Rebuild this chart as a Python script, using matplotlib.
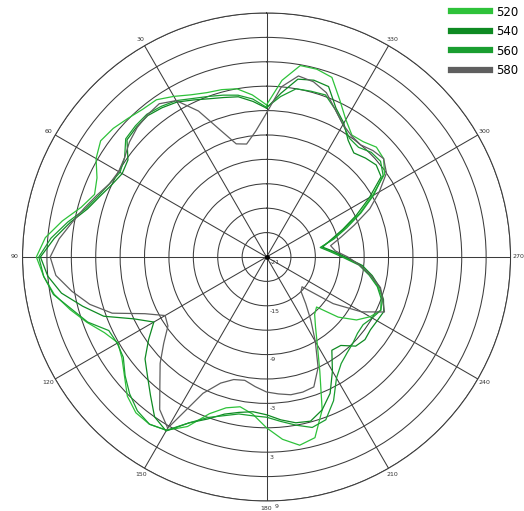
import numpy as np
import matplotlib
matplotlib.use("Agg")
import matplotlib.pyplot as plt

# angles (deg, counter-clockwise from top) and gain values (dB)
angles = np.arange(0, 360, 5)

gain_520 = [
    -2.3, -1.0, 0.0, 0.3, 0.5, 1.0, 1.8, 2.6, 2.7, 3.1, 3.6, 3.9,
    3.2, 2.0, 1.5, 2.6, 4.5, 6.3, 7.3, 6.5, 5.5, 4.0, 2.5, 1.0,
    0.1, 0.7, 1.8, 3.2, 4.0, 4.1, 3.6, 2.0, -0.5, -1.8, -2.3, -1.6,
    0.0, 1.5, 2.5, 2.0, -1.0, -5.5, -8.5, -10.5, -11.8, -12.3, -9.5, -7.5,
    -6.3, -5.5, -5.8, -6.8, -8.0, -9.4, -11.5, -13.0, -14.2, -12.6, -10.8, -8.4,
    -6.0, -3.3, -2.2, -1.9, -2.5, -2.7, -1.5, 0.3, 2.5, 2.9, 2.9, 0.8,
]
gain_540 = [
    -2.7, -1.8, -1.0, -0.7, -0.3, 0.3, 1.0, 1.4, 1.7, 1.6, 1.4, -0.2,
    -0.5, 0.0, 0.8, 1.8, 3.5, 5.2, 6.8, 6.0, 4.6, 2.4, 0.3, -3.0,
    -5.0, -3.3, -1.5, -0.3, 1.2, 3.0, 3.7, 1.5, 0.2, -1.0, -1.6, -1.9,
    -1.6, -0.9, -0.3, -0.1, -1.0, -2.5, -4.8, -7.0, -6.8, -5.5, -5.2, -5.4,
    -5.3, -5.1, -5.7, -6.6, -7.8, -9.2, -11.3, -12.8, -14.0, -12.8, -11.0, -8.8,
    -6.4, -3.8, -3.4, -3.8, -4.3, -3.5, -2.0, -0.8, 1.3, 1.5, 1.2, -0.8,
]
gain_560 = [
    -2.6, -1.5, -0.8, -0.4, 0.0, 0.5, 1.2, 1.6, 1.9, 1.8, 1.6, 0.3,
    -0.2, 0.3, 1.0, 2.0, 3.8, 5.6, 7.0, 6.5, 5.6, 3.8, 2.4, 0.4,
    0.2, 0.5, 1.7, 2.8, 3.7, 4.1, 3.6, 1.5, 0.0, -0.8, -1.4, -1.4,
    -1.3, -0.7, 0.0, 0.7, 0.3, -1.5, -3.8, -5.0, -5.6, -6.0, -6.4, -6.5,
    -6.0, -5.5, -6.0, -6.9, -8.2, -9.6, -11.7, -13.2, -14.3, -12.4, -10.5, -8.2,
    -5.8, -3.5, -2.7, -2.8, -3.4, -3.2, -2.2, -1.0, 0.2, 0.1, 0.0, -1.2,
]
gain_580 = [
    -3.3, -5.5, -6.9, -6.6, -4.4, -1.2, 1.2, 2.0, 1.8, 1.5, 1.0, 0.3,
    0.0, 0.3, 1.2, 2.2, 3.3, 4.6, 5.6, 5.0, 3.3, 1.5, -0.8, -4.5,
    -6.6, -6.2, -4.5, -2.5, -0.6, 1.9, 3.3, -2.5, -4.5, -5.4, -5.6, -5.0,
    -4.4, -4.1, -3.8, -3.8, -4.0, -6.0, -9.0, -11.5, -13.5, -15.0, -15.3, -11.0,
    -7.5, -5.0, -5.8, -6.5, -8.0, -9.5, -11.0, -12.5, -13.0, -11.5, -9.5, -7.0,
    -5.0, -3.0, -2.2, -2.5, -3.0, -2.8, -2.2, -1.0, 0.5, 1.3, 1.6, 0.0,
]

series = [
    ("520", gain_520, "#2ec23a"),
    ("540", gain_540, "#0e8a22"),
    ("560", gain_560, "#1a9e30"),
    ("580", gain_580, "#5f5f5f"),
]

ring_values = np.arange(-18, 10, 3)
ring_labels = {-21: "-21", -15: "-15", -9: "-9", -3: "-3", 3: "3", 9: "9"}
spoke_angles = np.arange(0, 360, 30)
# the top label (0) is not visible in the source picture
spoke_labels = [""] + [str(a) for a in spoke_angles[1:]]

fig = plt.figure(figsize=(5.24, 5.11), dpi=100)
ax = fig.add_axes([0.043, 0.0196, 0.9313, 0.955], projection="polar")
ax.set_theta_zero_location("N")
ax.set_theta_direction(1)
ax.set_ylim(-21, 9)

grid_col = "#3c3c3c"
ax.set_yticks(ring_values)
ax.set_yticklabels([])
ax.set_thetagrids(spoke_angles, spoke_labels, fontsize=4.5, color="#333333")
ax.tick_params(axis="x", pad=-5)
ax.grid(True, color=grid_col, linewidth=0.75)
ax.spines["polar"].set_color(grid_col)
ax.spines["polar"].set_linewidth(0.75)

for r, lbl in ring_labels.items():
    # outermost label sits beside the "180" angle label
    dx = 6 if r == 9 else 2
    ax.annotate(lbl, xy=(np.pi, r), xytext=(dx, -2), textcoords="offset points",
                ha="left", va="top", fontsize=4.5, color="#333333")

th = np.radians(np.append(angles, 360))
handles = []
for name, vals, col in series:
    v = np.append(vals, vals[0])
    line, = ax.plot(th, v, color=col, linewidth=0.9)
    handles.append(line)

ax.plot([0], [-21], marker="o", color="black", markersize=2.5)

leg = fig.legend(handles, [s[0] for s in series], loc="upper left",
                 bbox_to_anchor=(0.84, 1.01), frameon=False, fontsize=8.5,
                 handlelength=3.3, handletextpad=0.5, labelspacing=0.55)
for lh in leg.get_lines():
    lh.set_linewidth(4.5)

fig.savefig("out.png", dpi=100, facecolor="white")
